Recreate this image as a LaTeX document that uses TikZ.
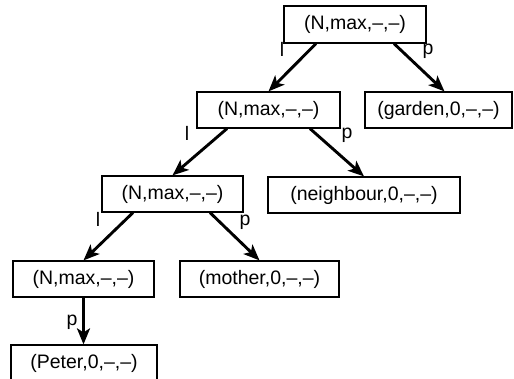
\documentclass[tikz,border=0pt]{standalone}
\usepackage{fontspec}
\setmainfont{Liberation Sans}
\usetikzlibrary{arrows.meta}
\begin{document}
\begin{tikzpicture}[x=1pt,y=-1pt,
  box/.style={draw,line width=1.2pt,inner sep=0pt,minimum height=36pt,
    font=\fontsize{19.5}{22}\selectfont},
  edge/.style={line width=2.9pt,-{Stealth[length=16pt,width=13pt,inset=4pt]}},
  lab/.style={inner sep=0pt,font=\fontsize{19.5}{22}\selectfont}]
\useasboundingbox (0,0) rectangle (514,378);

% feature-structure nodes
\node[box,minimum width=142pt,minimum height=37pt] (root) at (355,24.5) {(N,max,–,–)};
\node[box,minimum width=143pt] (n2) at (268.5,110) {(N,max,–,–)};
\node[box,minimum width=147pt] (garden) at (438.5,110) {(garden,0,–,–)};
\node[box,minimum width=141pt] (n3) at (172.5,194) {(N,max,–,–)};
\node[box,minimum width=192pt] (neighbour) at (364,195) {(neighbour,0,–,–)};
\node[box,minimum width=141pt] (n4) at (83.5,279) {(N,max,–,–)};
\node[box,minimum width=159pt] (mother) at (259.5,279) {(mother,0,–,–)};
\node[box,minimum width=146pt] (peter) at (84,363) {(Peter,0,–,–)};

% edges
\draw[edge] ([xshift=-39pt]root.south) -- (n2.north);
\draw[edge] ([xshift=39pt]root.south) -- ([xshift=6pt]garden.north);
\draw[edge] ([xshift=-41.5pt]n2.south) -- (n3.north);
\draw[edge] ([xshift=41.5pt]n2.south) -- (neighbour.north);
\draw[edge] ([xshift=-39.5pt]n3.south) -- (n4.north);
\draw[edge] ([xshift=37.5pt]n3.south) -- (mother.north);
\draw[edge] (n4.south) -- (peter.north -| n4.south);

% edge labels
\node[lab] (l1) at (282,49) {l};
\node[lab] (p1) at (428,51) {p};
\node[lab] (l2) at (187,133) {l};
\node[lab] (p2) at (347,135) {p};
\node[lab] (l3) at (98,219) {l};
\node[lab] (p3) at (245,222) {p};
\node[lab] (p4) at (72,322) {p};
\end{tikzpicture}
\end{document}
